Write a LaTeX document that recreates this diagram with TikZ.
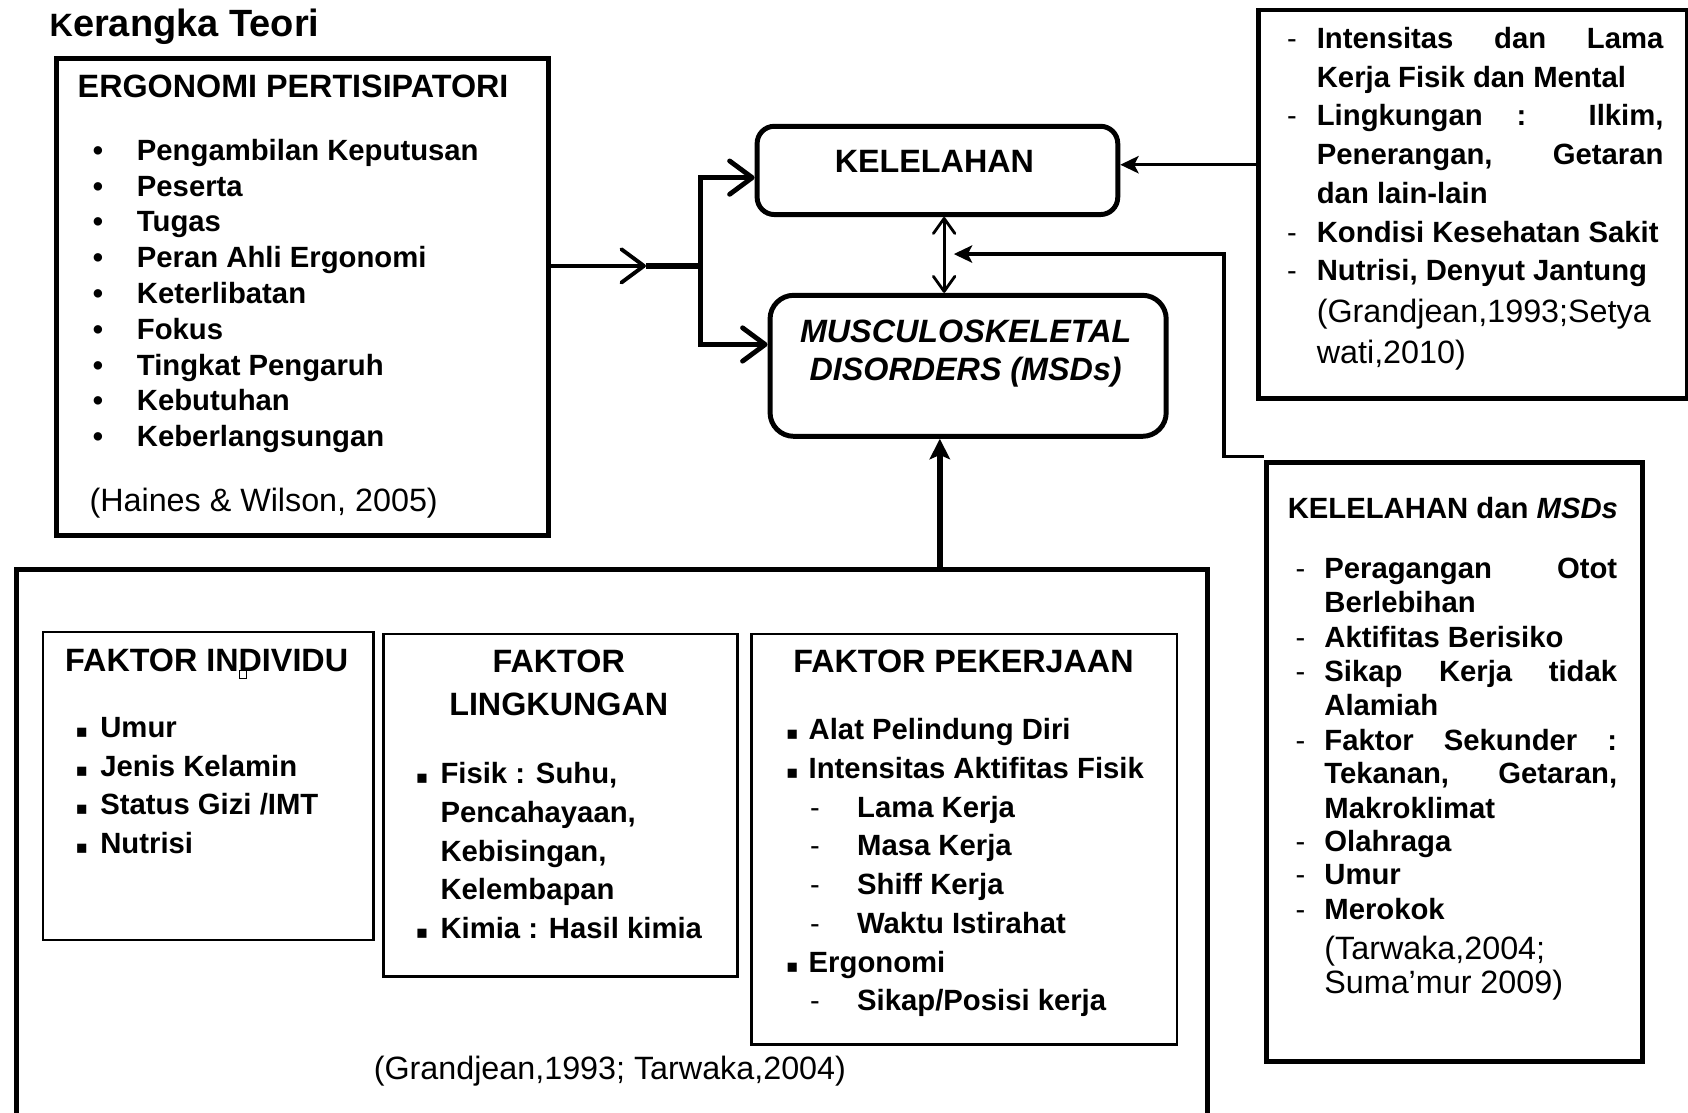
\documentclass[tikz,border=0pt]{standalone}
\usepackage{fontspec}
\setmainfont{Liberation Sans}
\newfontfamily\symfont{DejaVu Sans}
\usetikzlibrary{arrows.meta,calc}
\newcommand\hfnt{\fontsize{30}{36}\selectfont\bfseries}
\newcommand\bfnt{\fontsize{27.2}{33}\selectfont\bfseries}
\newcommand\cfnt{\fontsize{30}{36}\selectfont}
\newcommand\sqb{{\symfont\fontsize{17}{20}\selectfont ▪}}
\tikzset{
  bx/.style={draw, line width=4.6pt, inner sep=0pt, anchor=north west},
  rbx/.style={draw, line width=4.6pt, inner sep=0pt, anchor=north west},
  tbx/.style={draw, line width=2.2pt, inner sep=0pt, anchor=north west},
  tl/.style={anchor=base west, inner sep=0pt, font=\bfnt},
  tc/.style={anchor=base, inner sep=0pt, font=\bfnt},
  hd/.style={anchor=base west, inner sep=0pt, font=\hfnt},
  hc/.style={anchor=base, inner sep=0pt, font=\hfnt},
  ct/.style={anchor=base west, inner sep=0pt, font=\cfnt},
  mk/.style={anchor=base, inner sep=0pt, font=\bfnt},
  sq/.style={anchor=base, inner sep=0pt},
  dsh/.style={anchor=base, inner sep=0pt, font=\fontsize{27}{33}\selectfont},
  barb/.style={line width=4.5pt, -{Straight Barb[round, length=21pt, width=31pt]}},
  dbl/.style={line width=2.6pt, {Straight Barb[round, length=14pt, width=20pt]}-{Straight Barb[round, length=14pt, width=20pt]}},
  stl/.style={line width=3.2pt, -{Stealth[length=17pt, width=16pt, inset=4pt]}},
  stlk/.style={line width=5pt, -{Stealth[length=19pt, width=19pt, inset=4pt]}},
}
\begin{document}
\begin{tikzpicture}[x=1pt,y=-1pt]
\useasboundingbox (0,0) rectangle (1568,1033);

% title
\node[anchor=base west, inner sep=0pt, font=\fontsize{35.3}{40}\selectfont\bfseries] (title) at (46,34) {{\fontsize{30}{34}\selectfont K}erangka Teori};

% ---------------- Ergonomi partisipatori box
\node[bx, minimum width=457pt, minimum height=443pt] (ergo) at (50,52) {};
\node[hd] (ergoh) at (72,91) {ERGONOMI PERTISIPATORI};
\foreach \s [count=\i] in {Pengambilan Keputusan,Peserta,Tugas,Peran Ahli Ergonomi,Keterlibatan,Fokus,Tingkat Pengaruh,Kebutuhan,Keberlangsungan}{
  \pgfmathsetmacro\yy{149+33.25*(\i-1)}
  \node[mk] (eb\i) at (91,\yy) {•};
  \node[tl] (e\i) at (127,\yy) {\s};
}
\node[ct] (ergoc) at (83,475) {(Haines \& Wilson, 2005)};

% ---------------- Kelelahan and MSDs
\node[rbx, rounded corners=16pt, minimum width=335pt, minimum height=82pt] (kel) at (701,115) {};
\node[hc] (kelt) at (868,160) {KELELAHAN};
\node[rbx, rounded corners=22pt, minimum width=368pt, minimum height=131pt] (msd) at (713,272) {};
\node[hc] (msd1) at (897,318) {\itshape MUSCULOSKELETAL};
\node[hc] (msd2) at (897,353) {\itshape DISORDERS (MSDs)};

% ---------------- top right box
\node[bx, minimum width=398pt, minimum height=361pt] (rt) at (1167,7) {};
\node[dsh] (rd1) at (1200,45) {-};
\node[tl] (r1) at (1223,45) {\makebox[322pt][s]{Intensitas dan Lama}};
\node[tl] (r2) at (1223,81) {Kerja Fisik dan Mental};
\node[dsh] (rd3) at (1200,117) {-};
\node[tl] (r3) at (1223,117) {\makebox[322pt][s]{Lingkungan : Ilkim,}};
\node[tl] (r4) at (1223,153) {\makebox[322pt][s]{Penerangan, Getaran}};
\node[tl] (r5) at (1223,189) {dan lain-lain};
\node[dsh] (rd6) at (1200,225) {-};
\node[tl] (r6) at (1223,225) {Kondisi Kesehatan Sakit};
\node[dsh] (rd7) at (1200,261) {-};
\node[tl] (r7) at (1223,261) {Nutrisi, Denyut Jantung};
\node[ct] (r8) at (1223,300) {(Grandjean,1993;Setya};
\node[ct] (r9) at (1223,338) {wati,2010)};

% ---------------- lower right box
\node[bx, minimum width=349pt, minimum height=557pt] (lr) at (1174,427) {};
\node[tl] (lrh) at (1196,482) {KELELAHAN dan \textit{MSDs}};
\foreach \yy in {537,601,633,697,791,822,854}{
  \node[dsh] at (1208,\yy) {-};
}
\node[tl] (l1) at (1230,537) {\makebox[272pt][s]{Peragangan Otot}};
\node[tl] (l2) at (1230,569) {Berlebihan};
\node[tl] (l3) at (1230,601) {Aktifitas Berisiko};
\node[tl] (l4) at (1230,633) {\makebox[272pt][s]{Sikap Kerja tidak}};
\node[tl] (l5) at (1230,665) {Alamiah};
\node[tl] (l6) at (1230,697) {\makebox[272pt][s]{Faktor Sekunder :}};
\node[tl] (l7) at (1230,728) {\makebox[272pt][s]{Tekanan, Getaran,}};
\node[tl] (l8) at (1230,760) {Makroklimat};
\node[tl] (l9) at (1230,791) {Olahraga};
\node[tl] (l10) at (1230,822) {Umur};
\node[tl] (l11) at (1230,854) {Merokok};
\node[ct] (l12) at (1230,891) {(Tarwaka,2004;};
\node[ct] (l13) at (1230,923) {Suma’mur 2009)};

% ---------------- bottom big box
\node[bx, minimum width=1106pt, minimum height=560pt] (bot) at (13,527) {};

\node[tbx, minimum width=307pt, minimum height=286pt] (ind) at (39,586) {};
\node[hc] (indh) at (192,624) {FAKTOR INDIVIDU};
\draw[line width=0.6pt] (222,623) rectangle (229,630);
\foreach \s [count=\i] in {Umur,Jenis Kelamin,Status Gizi /IMT,Nutrisi}{
  \pgfmathsetmacro\yy{685+36*(\i-1)}
  \node[sq] (ib\i) at (76,\yy) {\sqb};
  \node[tl] (i\i) at (93,\yy) {\s};
}

\node[tbx, minimum width=329pt, minimum height=318pt] (ling) at (355,588) {};
\node[hc] (lingh1) at (519,625) {FAKTOR};
\node[hc] (lingh2) at (519,665) {LINGKUNGAN};
\node[sq] (gb1) at (392,728) {\sqb};
\node[tl] (g1) at (409,728) {Fisik : Suhu,};
\node[tl] (g2) at (409,764) {Pencahayaan,};
\node[tl] (g3) at (409,800) {Kebisingan,};
\node[tl] (g4) at (409,836) {Kelembapan};
\node[sq] (gb5) at (392,872) {\sqb};
\node[tl] (g5) at (409,872) {Kimia : Hasil kimia};

\node[tbx, minimum width=395pt, minimum height=381pt] (pek) at (697,588) {};
\node[hc] (pekh) at (895,625) {FAKTOR PEKERJAAN};
\node[sq] (pb1) at (736,687) {\sqb};
\node[tl] (p1) at (751,687) {Alat Pelindung Diri};
\node[sq] (pb2) at (736,723) {\sqb};
\node[tl] (p2) at (751,723) {Intensitas Aktifitas Fisik};
\foreach \s [count=\i] in {Lama Kerja,Masa Kerja,Shiff Kerja,Waktu Istirahat}{
  \pgfmathsetmacro\yy{759+36*(\i-1)}
  \node[dsh] (pd\i) at (757,\yy) {-};
  \node[tl] (pq\i) at (796,\yy) {\s};
}
\node[sq] (pb3) at (736,903) {\sqb};
\node[tl] (p3) at (751,903) {Ergonomi};
\node[dsh] (pd5) at (757,939) {-};
\node[tl] (p4) at (796,939) {Sikap/Posisi kerja};

\node[ct] (botc) at (347,1003) {(Grandjean,1993; Tarwaka,2004)};

% ---------------- connectors
\coordinate (j0) at (600,247);
\coordinate (jm) at (651,247);
\coordinate (j1) at (651,165);
\coordinate (j2) at (651,320);
\draw[barb, line width=3.6pt] (ergo.east |- j0) -- (j0);
\draw[line width=5pt] (j0) -- (jm);
\draw[barb] (jm) -- (j1) -- (j1 -| kel.west);
\draw[barb] (jm) -- (j2) -- (j2 -| msd.west);

\coordinate (dx) at (877,0);
\draw[dbl] (dx |- kel.south) -- (dx |- msd.north);

\coordinate (ry) at (0,153);
\draw[stl] (rt.west |- ry) -- (kel.east |- ry);

\coordinate (c1) at (1137,424);
\coordinate (c2) at (886,236);
\draw[stl, line width=3.6pt] (lr.west |- c1) -- (c1) -- (c1 |- c2) -- (c2);

\coordinate (ux) at (873,0);
\draw[stlk] (ux |- bot.north) -- (ux |- msd.south);
\end{tikzpicture}
\end{document}
